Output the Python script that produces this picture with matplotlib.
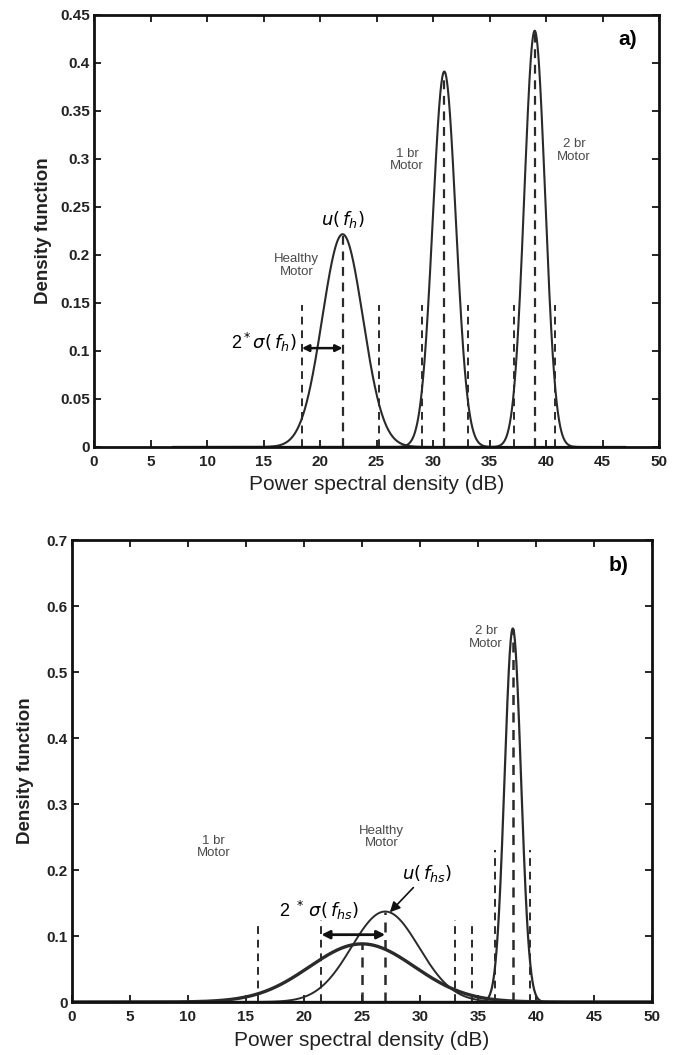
import numpy as np
import matplotlib
matplotlib.use("Agg")
import matplotlib.pyplot as plt

plt.rcParams['font.family'] = ['Liberation Sans', 'DejaVu Sans']

# ---- Panel a) data (read from picture) ----
a_labels = ["Healthy Motor", "1 br Motor", "2 br Motor"]
a_means = [22.0, 31.0, 39.0]
a_sigmas = [1.8, 1.02, 0.92]
a_side_dash_x = [18.4, 25.2, 29.0, 33.1, 37.2, 40.8]
a_side_dash_h = [0.148, 0.148, 0.148, 0.148, 0.148, 0.148]

# ---- Panel b) data (read from picture) ----
b_means = [25.0, 27.0, 38.0]
b_sigmas = [4.53, 2.91, 0.705]
b_widths = [2.4, 1.4, 1.6]
b_side_dash_x = [16.0, 21.5, 33.0, 34.5, 36.5, 39.5]
b_side_dash_h = [0.12, 0.125, 0.125, 0.118, 0.23, 0.23]

x_ticks = list(range(0, 51, 5))
a_yticks = [0, 0.05, 0.1, 0.15, 0.2, 0.25, 0.3, 0.35, 0.4, 0.45]
a_ytick_labels = ["0", "0.05", "0.1", "0.15", "0.2", "0.25", "0.3", "0.35", "0.4", "0.45"]
b_yticks = [0, 0.1, 0.2, 0.3, 0.4, 0.5, 0.6, 0.7]
b_ytick_labels = ["0", "0.1", "0.2", "0.3", "0.4", "0.5", "0.6", "0.7"]

LC = '#2a2a2a'
TXT = '#4a4a4a'
SMALL = 9.5


def pdf(x, m, s):
    return np.exp(-0.5 * ((x - m) / s) ** 2) / (s * np.sqrt(2 * np.pi))


def style(ax, yticks, ylabels, ymax, xlabpad, ylabpad):
    ax.set_xlim(0, 50)
    ax.set_ylim(0, ymax)
    ax.set_xticks(x_ticks)
    ax.set_xticklabels([str(t) for t in x_ticks])
    ax.set_yticks(yticks)
    ax.set_yticklabels(ylabels)
    ax.tick_params(direction='in', top=True, right=True, length=5, width=1.2,
                   labelsize=11)
    ax.tick_params(axis='x', pad=6)
    ax.tick_params(axis='y', pad=3)
    for lab in ax.get_xticklabels() + ax.get_yticklabels():
        lab.set_fontweight('bold')
        lab.set_color('#222222')
    for sp in ax.spines.values():
        sp.set_linewidth(2.0)
        sp.set_color('#111111')
    ax.set_xlabel("Power spectral density (dB)", fontsize=15, labelpad=xlabpad,
                  color='#222222')
    ax.set_ylabel("Density function", fontsize=13.5, fontweight='bold',
                  labelpad=ylabpad, color='#222222')


fig = plt.figure(figsize=(6.81, 10.55), dpi=100)

# ---------------- Panel a ----------------
ax1 = fig.add_axes([94 / 681, 1 - 447 / 1055, 565 / 681, 432 / 1055])
x = np.linspace(7, 47, 2000)
for m, s in zip(a_means, a_sigmas):
    ax1.plot(x, pdf(x, m, s), color=LC, lw=1.5)
    ax1.vlines(m, 0, pdf(m, m, s), colors=LC, linestyles=(0, (4, 3)), lw=1.6)
ax1.vlines(a_side_dash_x, 0, a_side_dash_h, colors=LC, linestyles=(0, (4, 3)), lw=1.4)
style(ax1, a_yticks, a_ytick_labels, 0.45, 4, 6)
ax1.text(47.2, 0.424, "a)", fontsize=15, fontweight='bold', ha='center', va='center')
ax1.text(17.9, 0.189, "Healthy\nMotor", fontsize=SMALL, color=TXT, ha='center', va='center', linespacing=1.05)
ax1.text(27.7, 0.299, "1 br\nMotor", fontsize=SMALL, color=TXT, ha='center', va='center', linespacing=1.05)
ax1.text(42.5, 0.309, "2 br\nMotor", fontsize=SMALL, color=TXT, ha='center', va='center', linespacing=1.05)
ax1.text(22.0, 0.237, r"$u(\,f_h)$", fontsize=13, ha='center', va='center')
ax1.text(17.9, 0.109, r"2$^*\sigma(\,f_h)$", fontsize=13, ha='right', va='center')
ax1.annotate("", xy=(18.4, 0.103), xytext=(22.0, 0.103),
             arrowprops=dict(arrowstyle='<|-|>', color='#111111', lw=1.8,
                             mutation_scale=10, shrinkA=0, shrinkB=0))

# ---------------- Panel b ----------------
ax2 = fig.add_axes([72 / 681, 1 - 1002 / 1055, 580 / 681, 462 / 1055])
x = np.linspace(0, 50, 2500)
for m, s, w in zip(b_means, b_sigmas, b_widths):
    ax2.plot(x, pdf(x, m, s), color=LC, lw=w)
    ax2.vlines(m, 0, pdf(m, m, s), colors=LC, linestyles=(0, (4, 3)), lw=1.8)
ax2.vlines(b_side_dash_x, 0, b_side_dash_h, colors=LC, linestyles=(0, (4, 3)), lw=1.4)
style(ax2, b_yticks, b_ytick_labels, 0.7, 5, 9)
ax2.text(47.1, 0.662, "b)", fontsize=15, fontweight='bold', ha='center', va='center')
ax2.text(35.7, 0.552, "2 br\nMotor", fontsize=SMALL, color=TXT, ha='center', va='center', linespacing=1.05)
ax2.text(26.7, 0.25, "Healthy\nMotor", fontsize=SMALL, color=TXT, ha='center', va='center', linespacing=1.05)
ax2.text(12.2, 0.235, "1 br\nMotor", fontsize=SMALL, color=TXT, ha='center', va='center', linespacing=1.05)
ax2.annotate(r"$u(\,f_{hs})$", xy=(27.4, 0.136), xytext=(30.6, 0.195),
             fontsize=13, ha='center', va='center',
             arrowprops=dict(arrowstyle='-|>', color='#111111', lw=1.2,
                             mutation_scale=15, shrinkA=1, shrinkB=0))
ax2.text(21.3, 0.139, r"2 $^*\,\sigma(\,f_{hs})$", fontsize=13, ha='center', va='center')
ax2.annotate("", xy=(21.5, 0.102), xytext=(27.0, 0.102),
             arrowprops=dict(arrowstyle='<|-|>', color='#111111', lw=2.0,
                             mutation_scale=12, shrinkA=0, shrinkB=0))

fig.savefig("out.png", dpi=100, facecolor='white')
